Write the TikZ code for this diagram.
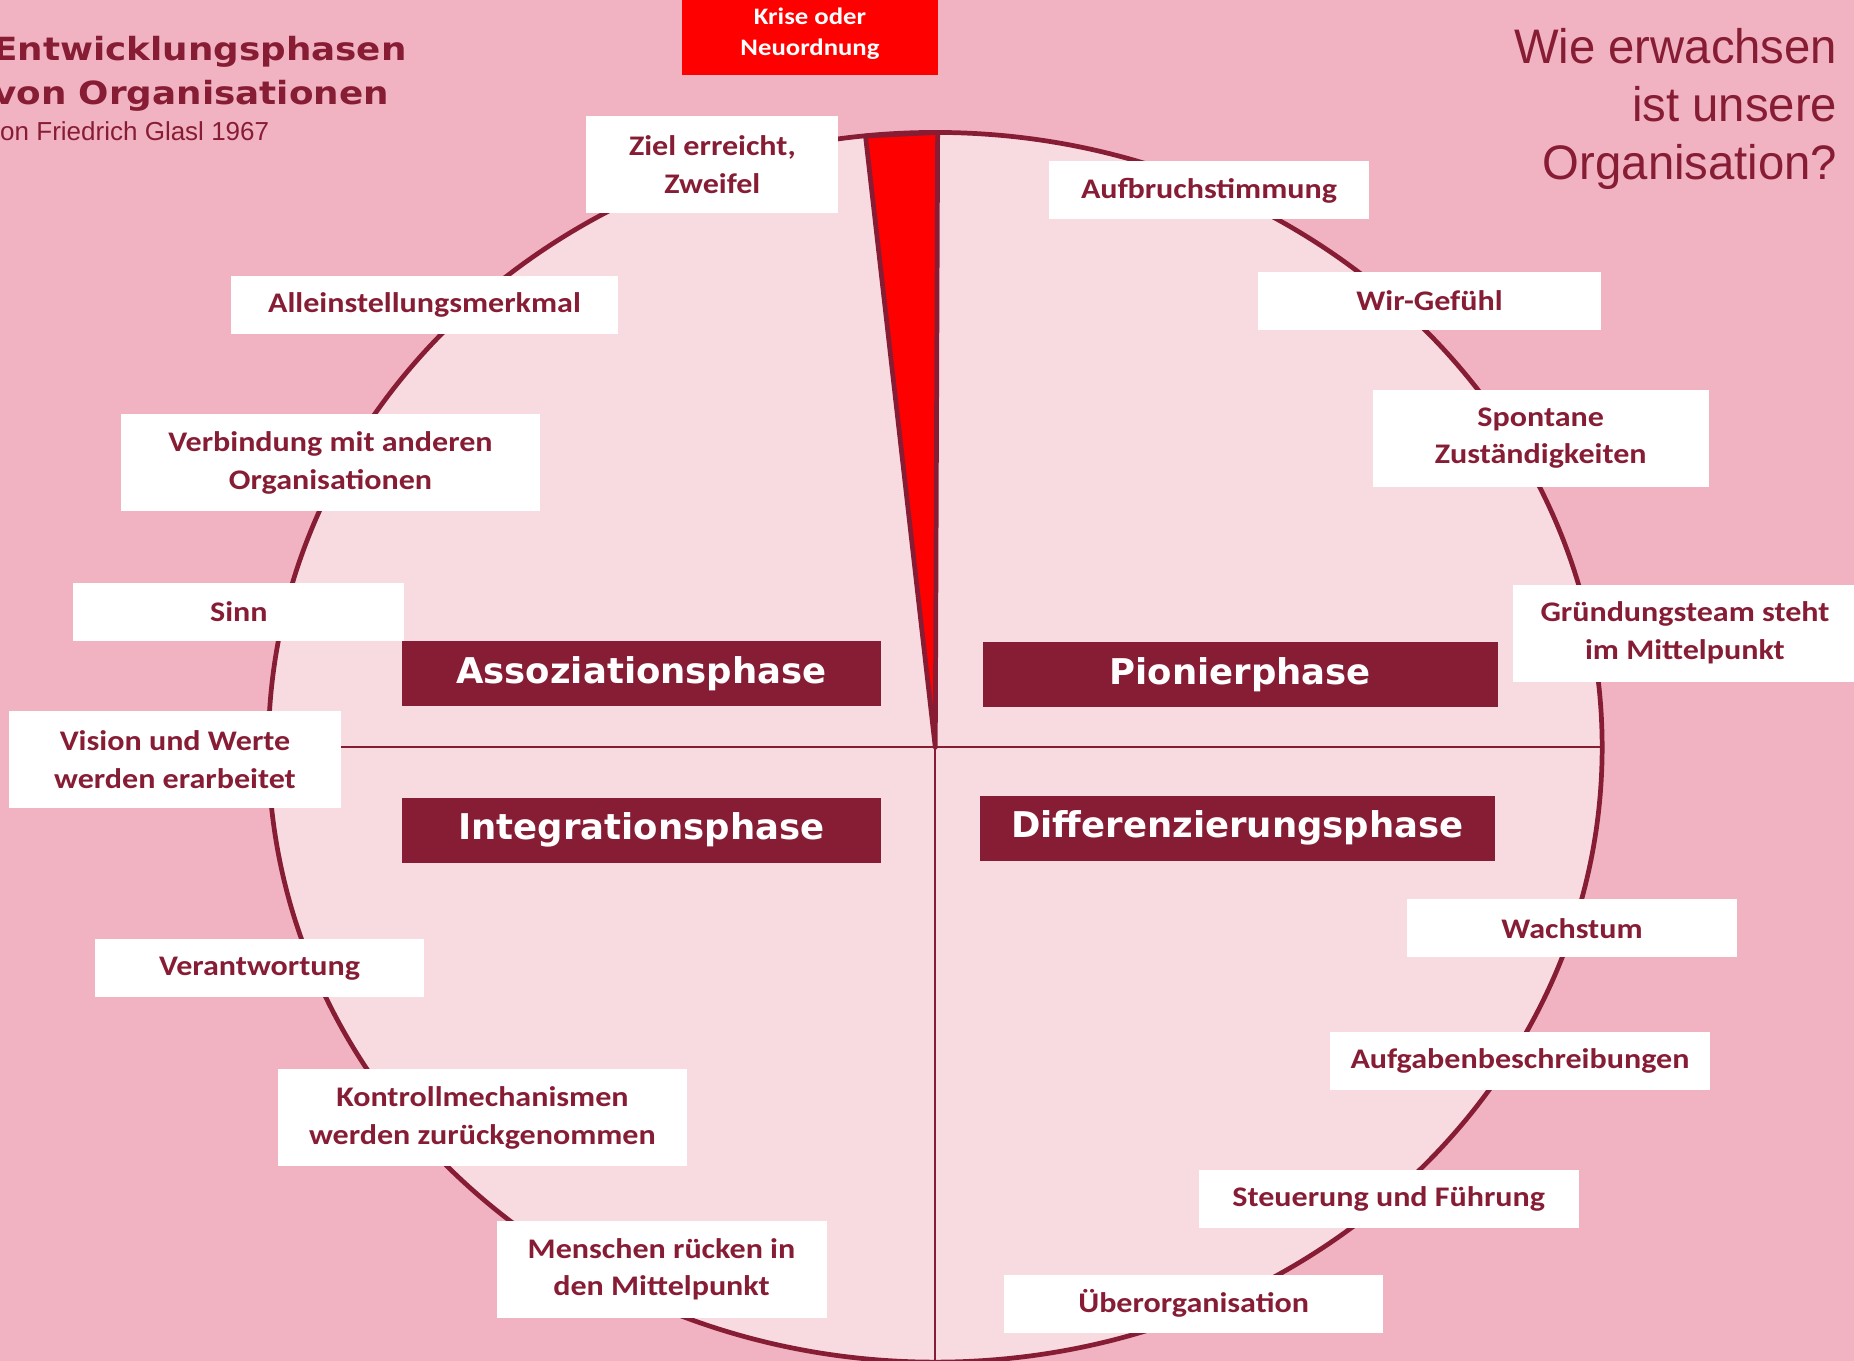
\documentclass[tikz,border=0pt]{standalone}
\usepackage{fontspec}
\setmainfont{Liberation Sans}
\newfontfamily\carlito[FakeStretch=1.13]{Carlito}
\newfontfamily\heavy{DejaVu Sans}
\newfontfamily\titleface[FakeStretch=1.12]{DejaVu Sans}
\newfontfamily\frageface[FakeStretch=0.975]{Liberation Sans}
\usepackage{xcolor}
\definecolor{backdrop}{HTML}{F1B3C1}
\definecolor{disc}{HTML}{F8DBE0}
\definecolor{wine}{HTML}{871D35}
\definecolor{alarm}{HTML}{FF0000}

\begin{document}
\begin{tikzpicture}[
  x=1pt, y=-1pt,
  phase/.style={
    fill=wine, text=white, inner sep=0pt, minimum height=55pt,
    font=\heavy\fontsize{30}{36}\selectfont\bfseries
  },
  tag/.style={
    fill=white, text=wine, inner sep=0pt, align=center, minimum height=49pt,
    font=\carlito\fontsize{24}{32}\selectfont\bfseries
  },
  tagtwo/.style={tag, minimum height=82pt}
]
  \useasboundingbox (0,0) rectangle (1568,1151);
  \fill[backdrop] (0,0) rectangle (1568,1151);

  \filldraw[fill=disc, draw=wine, line width=4pt]
    (791,632) ellipse [x radius=564, y radius=520];
  \draw[wine, line width=1.5pt] (227,632) -- (1355,632);
  \draw[wine, line width=1.5pt] (791,632) -- (791,1152);
  \filldraw[fill=alarm, draw=wine, line width=4pt, line join=round]
    (791,632) -- (732,115) -- (793,112) -- cycle;

  \node[phase, minimum width=405pt] (assoz) at (542.5,569.5) {Assoziationsphase};
  \node[phase, minimum width=436pt] (pionier) at (1049,570.5) {Pionierphase};
  \node[phase, minimum width=405pt] (integ) at (542.5,702) {Integrationsphase};
  \node[phase, minimum width=435pt] (diff) at (1046.5,700.5) {Differenzierungsphase};

  \node[fill=alarm, text=white, inner sep=0pt, align=center,
        minimum width=216pt, minimum height=70pt,
        font=\carlito\fontsize{20}{27}\selectfont\bfseries]
    (krise) at (685,28.5) {Krise oder\\Neuordnung};

  \node[tagtwo, minimum width=213pt] (ziel) at (602.5,139) {Ziel erreicht,\\Zweifel};
  \node[tag, minimum width=271pt] (aufbruch) at (1022.5,161) {Aufbruchstimmung};
  \node[tag, minimum width=328pt] (allein) at (359,258) {Alleinstellungsmerkmal};
  \node[tag, minimum width=290pt] (wir) at (1209,254.5) {Wir-Gefühl};
  \node[tagtwo, minimum width=355pt] (verbind) at (279.5,391.5) {Verbindung mit anderen\\Organisationen};
  \node[tagtwo, minimum width=284pt] (spontan) at (1303,370.5) {Spontane\\Zuständigkeiten};
  \node[tag, minimum width=280pt] (sinn) at (202,517.5) {Sinn};
  \node[tagtwo, minimum width=290pt] (team) at (1425,535.5) {Gründungsteam steht\\im Mittelpunkt};
  \node[tagtwo, minimum width=280pt] (vision) at (148,642.5) {Vision und Werte\\werden erarbeitet};
  \node[tag, minimum width=279pt] (wachs) at (1329.5,785) {Wachstum};
  \node[tag, minimum width=279pt] (verant) at (219.5,819) {Verantwortung};
  \node[tag, minimum width=321pt] (aufgabe) at (1285.5,897) {Aufgabenbeschreibungen};
  \node[tagtwo, minimum width=346pt] (kontroll) at (408,945.5) {Kontrollmechanismen\\werden zurückgenommen};
  \node[tag, minimum width=321pt] (steuer) at (1174.5,1014) {Steuerung und Führung};
  \node[tagtwo, minimum width=279pt] (menschen) at (559.5,1073.5) {Menschen rücken in\\den Mittelpunkt};
  \node[tag, minimum width=321pt] (ueber) at (1009.5,1102.5) {Überorganisation};

  \node[anchor=base west, inner sep=0pt, text=wine,
        font=\titleface\fontsize{27}{37}\selectfont\bfseries]
    (titel) at (-6,51) {Entwicklungsphasen};
  \node[anchor=base west, inner sep=0pt, text=wine,
        font=\titleface\fontsize{27}{37}\selectfont\bfseries]
    (titelb) at (-6,88) {von Organisationen};
  \node[anchor=base west, inner sep=0pt, text=wine,
        font=\fontsize{22}{26}\selectfont]
    (autor) at (-11,119) {von Friedrich Glasl 1967};

  \node[anchor=north east, inner sep=0pt, text=wine, align=right,
        font=\frageface\fontsize{41}{49}\selectfont]
    (frage) at (1554,24) {Wie erwachsen\\ist unsere\\Organisation?};
\end{tikzpicture}
\end{document}
